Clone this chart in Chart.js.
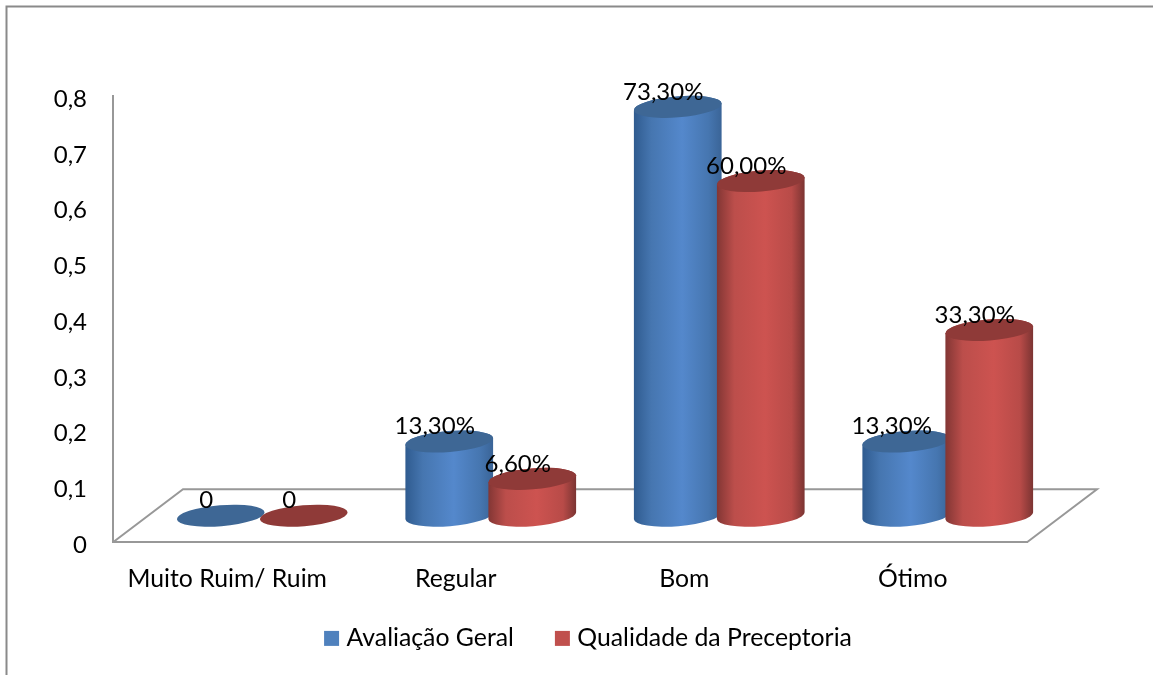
<!DOCTYPE html>
<html lang="pt">
<head>
<meta charset="utf-8">
<title>Avaliação Geral e Qualidade da Preceptoria</title>
<script src="https://cdn.jsdelivr.net/npm/chart.js@4"></script>
<style>
  html, body { margin: 0; padding: 0; background: #fff; }
  #wrap { width: 1153px; height: 675px; }
</style>
</head>
<body>
<div id="wrap"><canvas id="myChart" width="1153" height="675"></canvas></div>
<script>
'use strict';

const categories = ['Muito Ruim/ Ruim', 'Regular', 'Bom', 'Ótimo'];
const avaliacaoGeral = [0, 0.133, 0.733, 0.133];
const qualidadePreceptoria = [0, 0.066, 0.6, 0.333];
const yTickLabels = ['0', '0,1', '0,2', '0,3', '0,4', '0,5', '0,6', '0,7', '0,8'];

const fontFamily = 'Lato, "Open Sans", sans-serif';
const fontSize = 24;
const lineGray = '#989898';

// cylinders and floor sit half way into the depth of the plot box
const depthX = 70;
const depthY = 53;
const radiusY = 10.5;
const tilt = -0.08;

const paints = [
  { stops: ['#2f5b8f', '#4676b0', '#5488cc', '#4676b0', '#3a6497'], top: '#3e6795' },
  { stops: ['#823634', '#bc4e4b', '#cd5350', '#b84b48', '#7b3432'], top: '#8f3a38' }
];

function valueText(value) {
  return value === 0 ? '0' : (value * 100).toFixed(2).replace('.', ',') + '%';
}

function drawCylinder(ctx, bar, paint) {
  const cx = bar.x + depthX / 2;
  const rx = bar.width / 2;
  const yTop = bar.y - depthY / 2;
  const yBase = bar.base - depthY / 2;

  if (yBase - yTop > 0.5) {
    const grad = ctx.createLinearGradient(cx - rx, 0, cx + rx, 0);
    [0, 0.2, 0.55, 0.85, 1].forEach((at, i) => grad.addColorStop(at, paint.stops[i]));
    ctx.beginPath();
    ctx.ellipse(cx, yBase, rx, radiusY, tilt, 0, Math.PI);
    ctx.ellipse(cx, yTop, rx, radiusY, tilt, Math.PI, 0);
    ctx.closePath();
    ctx.fillStyle = grad;
    ctx.fill();
  }
  ctx.beginPath();
  ctx.ellipse(cx, yTop, rx, radiusY, tilt, 0, Math.PI * 2);
  ctx.fillStyle = paint.top;
  ctx.fill();
}

const cylinders = {
  id: 'cylinders',
  afterLayout(chart) {
    // legend is centred a little right of the plot box
    const legend = chart.legend;
    legend.left += 77;
    legend.right += 77;
    legend.top = 580;
    legend.bottom = 674;
    // y tick labels sit slightly below their tick
    chart.scales.y.getLabelItems(chart.chartArea).forEach((item) => {
      item.options.translation[1] += 3;
    });
  },
  beforeDraw(chart) {
    const { ctx, chartArea: a } = chart;
    ctx.save();
    // outer frame, top and left only
    ctx.strokeStyle = '#8a8a8a';
    ctx.lineWidth = 2;
    ctx.beginPath();
    ctx.moveTo(6.5, 675);
    ctx.lineTo(6.5, 6.5);
    ctx.lineTo(1153, 6.5);
    ctx.stroke();
    // floor of the plot box
    ctx.strokeStyle = lineGray;
    ctx.lineWidth = 2;
    ctx.beginPath();
    ctx.moveTo(a.left, a.bottom);
    ctx.lineTo(a.left + depthX, a.bottom - depthY);
    ctx.lineTo(a.right + depthX, a.bottom - depthY);
    ctx.lineTo(a.right, a.bottom);
    ctx.stroke();
    ctx.restore();
  },
  beforeDatasetsDraw(chart) {
    const ctx = chart.ctx;
    ctx.save();
    // blue before red inside every group, so the red one overlaps
    categories.forEach((name, i) => {
      chart.data.datasets.forEach((ds, d) => {
        drawCylinder(ctx, chart.getDatasetMeta(d).data[i], paints[d]);
      });
    });
    ctx.fillStyle = '#000';
    ctx.font = fontSize + 'px ' + fontFamily;
    ctx.textAlign = 'center';
    ctx.textBaseline = 'middle';
    chart.data.datasets.forEach((ds, d) => {
      chart.getDatasetMeta(d).data.forEach((bar, i) => {
        ctx.fillText(valueText(ds.data[i]), bar.x + depthX / 2 - 14.5, bar.y - depthY / 2 - 15);
      });
    });
    ctx.restore();
    return false;
  }
};

new Chart(document.getElementById('myChart'), {
  type: 'bar',
  data: {
    labels: categories,
    datasets: [
      { label: 'Avaliação Geral', data: avaliacaoGeral, backgroundColor: '#4f81bd', borderWidth: 0, categoryPercentage: 0.7265, barPercentage: 1.06 },
      { label: 'Qualidade da Preceptoria', data: qualidadePreceptoria, backgroundColor: '#c0504d', borderWidth: 0, categoryPercentage: 0.7265, barPercentage: 1.06 }
    ]
  },
  options: {
    responsive: false,
    animation: false,
    layout: { padding: { left: 0, right: 126, top: 96, bottom: 0 } },
    font: { family: fontFamily },
    plugins: {
      title: { display: false },
      tooltip: { enabled: false },
      legend: {
        position: 'bottom',
        labels: {
          font: { family: fontFamily, size: fontSize + 0.8 },
          color: '#000',
          usePointStyle: true,
          pointStyle: 'rect',
          boxWidth: 5,
          boxHeight: 15,
          padding: 46
        }
      }
    },
    scales: {
      x: {
        grid: { display: false, drawTicks: false },
        border: { display: true, color: lineGray, width: 2 },
        ticks: { color: '#000', padding: 22, maxRotation: 0, autoSkip: false, font: { family: fontFamily, size: fontSize + 0.75 } },
        afterFit(scale) { scale.height = 52; }
      },
      y: {
        min: 0,
        max: 0.8,
        grid: { display: false, drawTicks: false },
        border: { display: true, color: lineGray, width: 2 },
        ticks: {
          stepSize: 0.1,
          color: '#000',
          padding: 26,
          font: { family: fontFamily, size: fontSize },
          callback(value, index) { return yTickLabels[index]; }
        },
        afterFit(scale) { scale.width = 113; }
      }
    }
  },
  plugins: [cylinders]
});
</script>
</body>
</html>
